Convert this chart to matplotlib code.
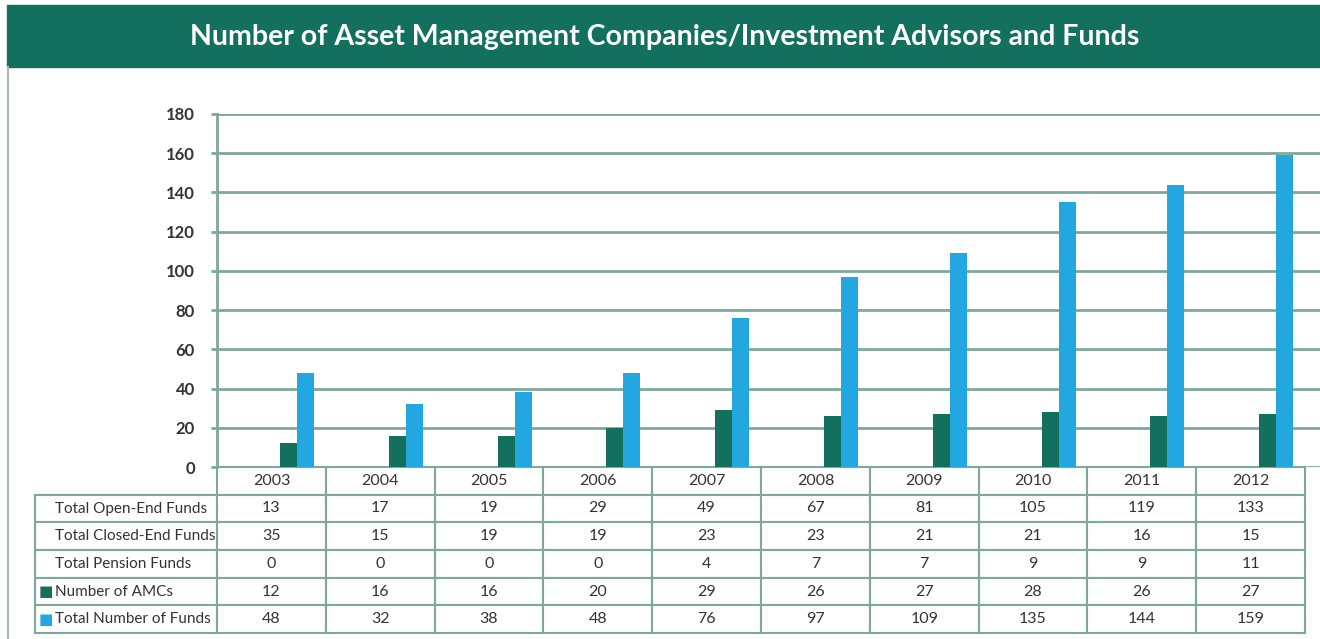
import matplotlib.pyplot as plt
from matplotlib.patches import Rectangle
from matplotlib.lines import Line2D
import numpy as np

plt.rcParams['font.family'] = ['Lato', 'DejaVu Sans']

years = ['2003', '2004', '2005', '2006', '2007', '2008', '2009', '2010', '2011', '2012']
open_end = [13, 17, 19, 29, 49, 67, 81, 105, 119, 133]
closed_end = [35, 15, 19, 19, 23, 23, 21, 21, 16, 15]
pension = [0, 0, 0, 0, 4, 7, 7, 9, 9, 11]
amcs = [12, 16, 16, 20, 29, 26, 27, 28, 26, 27]
total_funds = [48, 32, 38, 48, 76, 97, 109, 135, 144, 159]

row_labels = ['Total Open-End Funds', 'Total Closed-End Funds', 'Total Pension Funds',
              'Number of AMCs', 'Total Number of Funds']

teal = '#13705F'
blue = '#22A7E0'
grid_c = '#7FA89D'
text_c = '#333333'

W, H = 1320, 639
fig = plt.figure(figsize=(W / 100, H / 100), dpi=100)

# banner de titulo
fig.patches.append(Rectangle((7 / W, 1 - 67 / H), 1 - 7 / W, 62 / H,
                             transform=fig.transFigure, color=teal, zorder=0))
fig.text(665 / W, 1 - 37 / H,
         'Number of Asset Management Companies/Investment Advisors and Funds',
         color='white', fontsize=20.5, fontweight='bold', ha='center', va='center')
# moldura cinza
fig.lines.append(Line2D([7.5 / W, 7.5 / W], [0, 1 - 67 / H], transform=fig.transFigure,
                        color='#A8B8B3', lw=1.5))

# eixo do grafico
x0, x1, ytop, ybot = 217, 1320, 114, 467
ax = fig.add_axes([x0 / W, 1 - ybot / H, (x1 - x0) / W, (ybot - ytop) / H])
colw = 108.8
x = np.arange(len(years))
w = 17 / colw
ax.bar(x + w, amcs, width=w, color=teal, zorder=3)
ax.bar(x + 2 * w, total_funds, width=w, color=blue, zorder=3)
ax.set_xlim(-0.5, -0.5 + (x1 - x0) / colw)
ax.set_ylim(0, 180)
ax.set_yticks(range(0, 181, 20))
ax.yaxis.grid(True, color=grid_c, lw=2)
ax.set_axisbelow(True)
ax.set_xticks([])
for s in ['top', 'right', 'bottom']:
    ax.spines[s].set_visible(False)
ax.spines['left'].set_color(grid_c)
ax.spines['left'].set_linewidth(2)
ax.tick_params(axis='y', length=4, color=grid_c, width=2, labelsize=12,
               labelcolor=text_c, pad=12)
for lab in ax.get_yticklabels():
    lab.set_fontweight('bold')

# tabela de dados
cells = []
for i, serie in enumerate([open_end, closed_end, pension, amcs, total_funds]):
    cells.append([row_labels[i]] + [str(v) for v in serie])
tx0, tx1, tbot = 35, 1305, 633
tab_w = (tx1 - tx0) / (x1 - x0)
tab_h = (tbot - ybot) / (ybot - ytop)
widths = [217 - tx0] + [colw] * len(years)
tb = ax.table(cellText=cells, colLabels=[''] + years,
              colWidths=[v / sum(widths) for v in widths],
              cellLoc='center',
              bbox=[(tx0 - x0) / (x1 - x0), -tab_h, tab_w, tab_h])
tb.auto_set_font_size(False)
for (r, c), cell in tb.get_celld().items():
    cell.set_edgecolor(grid_c)
    cell.set_linewidth(1.5)
    cell.get_text().set_fontsize(11.5)
    cell.get_text().set_color(text_c)
    if c == 0:
        cell.get_text().set_ha('left')
        cell.get_text().set_fontsize(11)
        cell.PAD = 0.11
    if r == 0 and c == 0:
        cell.visible_edges = 'B'
        cell.set_edgecolor(grid_c)

# quadrados da legenda
row_h = (tbot - ybot) / 6
for k, col in [(3, teal), (4, blue)]:
    yc = ybot + row_h * (k + 1.5)
    fig.text(39 / W, 1 - yc / H, '■', color=col, fontsize=11, va='center', ha='left',
             family='DejaVu Sans')

fig.savefig('out.png', dpi=100)
